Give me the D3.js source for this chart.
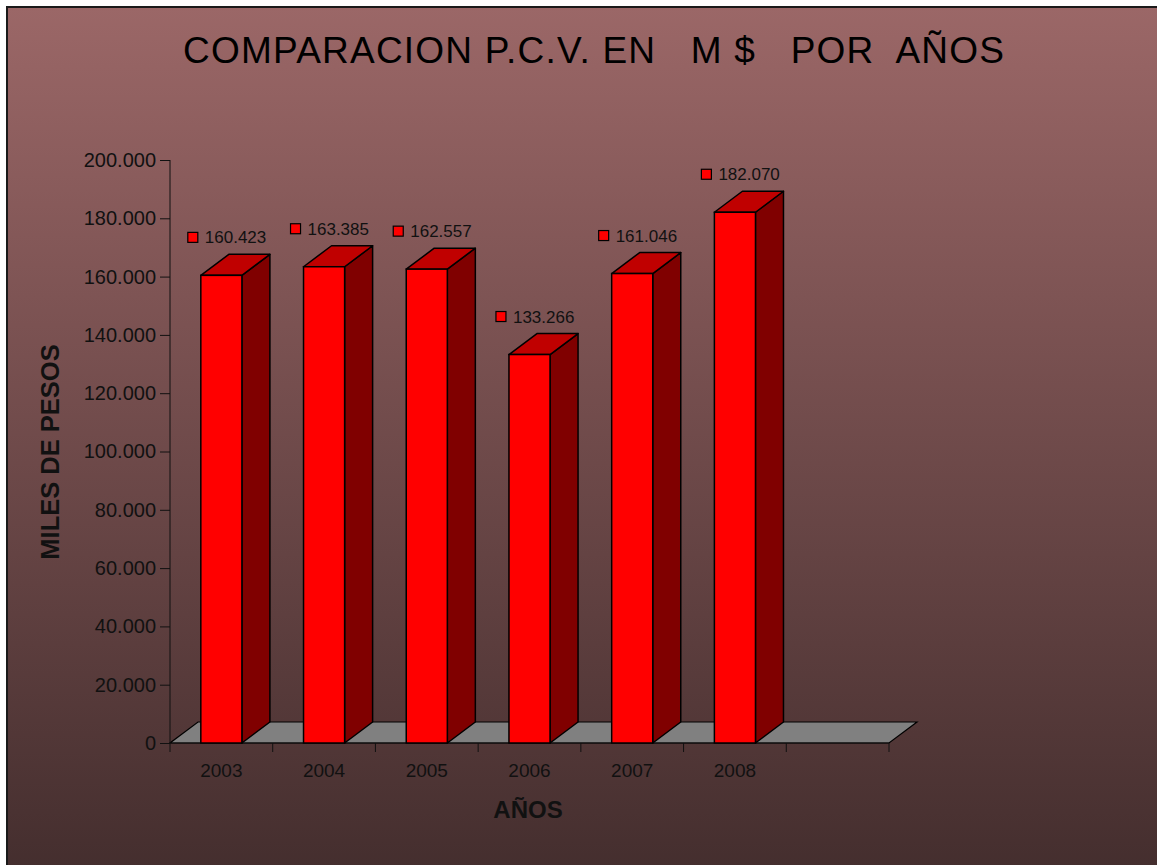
<!DOCTYPE html>
<html>
<head>
<meta charset="utf-8">
<script src="https://cdn.jsdelivr.net/npm/d3@7/dist/d3.min.js"></script>
<style>
  body { margin: 0; background: #fff; }
  svg { display: block; font-family: "Liberation Sans", Arial, sans-serif; }
</style>
</head>
<body>
<div id="chart"></div>
<script>
  // data
  var years = ['2003', '2004', '2005', '2006', '2007', '2008'];
  var values = [160423, 163385, 162557, 133266, 161046, 182070];
  var y_ticks = [0, 20000, 40000, 60000, 80000, 100000, 120000, 140000, 160000, 180000, 200000];

  var width = 1157, height = 865;
  var depth_x = 28, depth_y = -21;

  var loc = d3.formatLocale({ decimal: ',', thousands: '.', grouping: [3], currency: ['$', ''] });
  var fmt = loc.format(',.0f');

  var svg = d3.select('#chart').append('svg')
      .attr('width', width)
      .attr('height', height);

  // background
  {
    let grad = svg.append('defs').append('linearGradient')
        .attr('id', 'bg')
        .attr('x1', 0).attr('y1', 0).attr('x2', 0).attr('y2', 1);
    grad.append('stop').attr('offset', '0%').attr('stop-color', '#9b6767');
    grad.append('stop').attr('offset', '100%').attr('stop-color', '#442e2e');

    svg.append('rect')
        .attr('x', 7).attr('y', 7)
        .attr('width', width).attr('height', height)
        .attr('fill', 'url(#bg)')
        .attr('stroke', '#1a1a1a')
        .attr('stroke-width', 2);
  }

  var slots = years.concat(['']);

  var x = d3.scaleBand()
      .domain(slots)
      .range([170, 889])
      .paddingInner(0.6)
      .paddingOuter(0.3);

  var y = d3.scaleLinear()
      .domain([0, 200000])
      .range([743, 160]);

  // title
  svg.append('text')
      .attr('x', 183)
      .attr('y', 63)
      .attr('font-size', '37px')
      .attr('fill', '#000')
      .attr('textLength', 821)
      .attr('lengthAdjust', 'spacing')
      .style('white-space', 'pre')
      .text('COMPARACION P.C.V. EN   M $   POR  AÑOS');

  // floor
  {
    let x0 = 170, x1 = 889, y0 = y(0);
    svg.append('path')
        .attr('d', `M${x0},${y0} L${x1},${y0} L${x1 + depth_x},${y0 + depth_y} L${x0 + depth_x},${y0 + depth_y} Z`)
        .attr('fill', '#808080')
        .attr('stroke', '#000')
        .attr('stroke-width', 1.2);
  }

  // y axis
  {
    let ax = svg.append('g')
        .attr('transform', 'translate(170,0)')
        .call(d3.axisLeft(y).tickValues(y_ticks).tickSize(10).tickPadding(4).tickFormat(fmt));
    ax.selectAll('text').attr('font-size', '20px').attr('fill', '#111').attr('font-family', null);
    ax.selectAll('line, path').attr('stroke', '#111');
    ax.select('.domain').attr('d', `M0,${y(200000)}V${y(0)}`);
  }

  // x axis
  {
    let g = svg.append('g');
    g.append('line')
        .attr('x1', 170).attr('x2', 889)
        .attr('y1', y(0)).attr('y2', y(0))
        .attr('stroke', '#111');

    let bounds = slots.map((d) => x(d) - x.step() * x.paddingInner() / 2).concat([889]);
    bounds[0] = 170;
    g.selectAll('.xt')
        .data(bounds)
        .enter().append('line')
        .attr('x1', (d) => d).attr('x2', (d) => d)
        .attr('y1', y(0)).attr('y2', y(0) + 9)
        .attr('stroke', '#111');

    g.selectAll('.xl')
        .data(years)
        .enter().append('text')
        .attr('x', (d) => x(d) + x.bandwidth() / 2)
        .attr('y', 777)
        .attr('text-anchor', 'middle')
        .attr('font-size', '19px')
        .attr('fill', '#111')
        .text((d) => d);
  }

  // axis titles
  svg.append('text')
      .attr('x', 528)
      .attr('y', 818)
      .attr('text-anchor', 'middle')
      .attr('font-size', '24px')
      .attr('font-weight', 'bold')
      .attr('fill', '#111')
      .text('AÑOS');

  svg.append('text')
      .attr('transform', 'translate(59,452) rotate(-90)')
      .attr('text-anchor', 'middle')
      .attr('font-size', '25.5px')
      .attr('font-weight', 'bold')
      .attr('fill', '#111')
      .text('MILES DE PESOS');

  // bars
  var bw = x.bandwidth();
  var bars = svg.selectAll('.bar')
      .data(years.map((d, i) => ({ year: d, value: values[i] })))
      .enter().append('g')
      .attr('class', 'bar');

  bars.append('path')
      .attr('d', (d) => {
        let x0 = x(d.year) + bw, yt = y(d.value), yb = y(0);
        return `M${x0},${yb} L${x0 + depth_x},${yb + depth_y} L${x0 + depth_x},${yt + depth_y} L${x0},${yt} Z`;
      })
      .attr('fill', '#800000')
      .attr('stroke', '#000')
      .attr('stroke-width', 1.5)
      .attr('stroke-linejoin', 'round');

  bars.append('path')
      .attr('d', (d) => {
        let x0 = x(d.year), yt = y(d.value);
        return `M${x0},${yt} L${x0 + bw},${yt} L${x0 + bw + depth_x},${yt + depth_y} L${x0 + depth_x},${yt + depth_y} Z`;
      })
      .attr('fill', '#c00000')
      .attr('stroke', '#000')
      .attr('stroke-width', 1.5)
      .attr('stroke-linejoin', 'round');

  bars.append('rect')
      .attr('x', (d) => x(d.year))
      .attr('y', (d) => y(d.value))
      .attr('width', bw)
      .attr('height', (d) => y(0) - y(d.value))
      .attr('fill', '#ff0000')
      .attr('stroke', '#000')
      .attr('stroke-width', 1.5);

  // value labels
  bars.append('rect')
      .attr('x', (d) => x(d.year) - 13)
      .attr('y', (d) => y(d.value) + depth_y - 22)
      .attr('width', 10)
      .attr('height', 10)
      .attr('fill', '#ff0000')
      .attr('stroke', '#000')
      .attr('stroke-width', 1.2);

  bars.append('text')
      .attr('x', (d) => x(d.year) + 4)
      .attr('y', (d) => y(d.value) + depth_y - 11)
      .attr('font-size', '17px')
      .attr('fill', '#111')
      .text((d) => fmt(d.value));
</script>
</body>
</html>
